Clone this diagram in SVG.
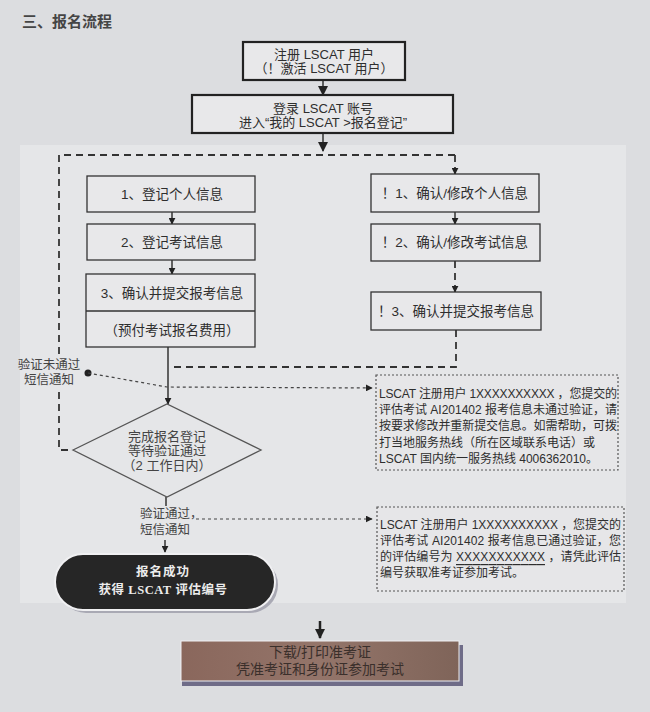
<svg xmlns="http://www.w3.org/2000/svg" width="650" height="712" viewBox="0 0 650 712">
<defs>
<style>
text{font-family:"Liberation Sans","Noto Sans CJK SC",sans-serif;fill:#2e2e2e;}
.c{text-anchor:middle;dominant-baseline:central;}
.l{text-anchor:start;dominant-baseline:central;}
.t13{font-size:13px;}
.t14{font-size:13.5px;}
.t12{font-size:12px;}
.box{fill:#e8e8ea;stroke:#333;stroke-width:1.3;}
.boxb{fill:#e8e8ea;stroke:#222;stroke-width:2.2;}
.solid{fill:none;stroke:#333;stroke-width:1.5;}
.dash{fill:none;stroke:#333;stroke-width:1.8;stroke-dasharray:7 5;}
.dot{fill:none;stroke:#444;stroke-width:1.2;stroke-dasharray:3 3;}
.dotbox{fill:#e6e6e8;stroke:#555;stroke-width:1.2;stroke-dasharray:2 2;}
</style>
<marker id="ah" viewBox="0 0 10 10" refX="9" refY="5" markerWidth="7" markerHeight="7" markerUnits="userSpaceOnUse" orient="auto">
<path d="M0,0 L10,5 L0,10 z" fill="#222"/>
</marker>
<marker id="ahb" viewBox="0 0 10 10" refX="9" refY="5" markerWidth="10" markerHeight="10" markerUnits="userSpaceOnUse" orient="auto">
<path d="M0,0 L10,5 L0,10 z" fill="#222"/>
</marker>
<linearGradient id="brown" x1="0" y1="0" x2="1" y2="0">
<stop offset="0" stop-color="#8a675c"/>
<stop offset="0.5" stop-color="#94756a"/>
<stop offset="1" stop-color="#7f6459"/>
</linearGradient>
</defs>

<rect x="0" y="0" width="650" height="712" fill="#dcdde0"/>
<rect x="20" y="145" width="606" height="458" fill="#e5e6e8"/>

<text x="22" y="21" class="l" style="font-size:15px;font-weight:bold;fill:#454545;">三、报名流程</text>

<g id="connectors">
<line x1="323" y1="80" x2="323" y2="95" class="solid" marker-end="url(#ahb)"/>
<line x1="323" y1="133" x2="323" y2="151" class="solid" marker-end="url(#ahb)"/>
<path d="M455 155 H59 V354" class="dash"/>
<path d="M59 392 V450 H73" class="dash"/>
<line x1="455" y1="155" x2="455" y2="174" class="dash" marker-end="url(#ah)"/>
<line x1="172" y1="212" x2="172" y2="224" class="solid" marker-end="url(#ah)"/>
<line x1="172" y1="260" x2="172" y2="274" class="solid" marker-end="url(#ah)"/>
<line x1="455" y1="212" x2="455" y2="224" class="solid" marker-end="url(#ah)"/>
<line x1="455" y1="261" x2="455" y2="292" class="dash" marker-end="url(#ah)"/>
<path d="M456 330 V367 H173" class="dash"/>
<line x1="168" y1="347" x2="168" y2="404" class="solid" marker-end="url(#ah)"/>
<circle cx="88" cy="373" r="3.5" fill="#222"/>
<polyline points="88,373 167,387 372,388" class="dot" marker-end="url(#ah)"/>
<line x1="166" y1="497" x2="166" y2="506" class="solid"/>
<line x1="165" y1="540" x2="165" y2="552" class="solid" marker-end="url(#ah)"/>
<line x1="196" y1="519" x2="372" y2="519" class="dot" marker-end="url(#ah)"/>
<line x1="320" y1="621" x2="320" y2="638" style="stroke:#222;stroke-width:2.5" marker-end="url(#ahb)"/>
</g>

<g id="n-register">
<rect x="243" y="42" width="162" height="38" class="boxb"/>
<text x="324" y="54" class="c t13">注册 LSCAT 用户</text>
<text x="324" y="68" class="c t13">（！激活 LSCAT 用户）</text>
</g>

<g id="n-login">
<rect x="192" y="95" width="261" height="38" class="boxb"/>
<text x="323" y="108" class="c t13">登录 LSCAT 账号</text>
<text x="323" y="122" class="c t13">进入“我的 LSCAT &gt;报名登记”</text>
</g>

<g id="n-l1">
<rect x="87" y="176" width="168" height="36" class="box"/>
<text x="172" y="194" class="c t14">1、登记个人信息</text>
</g>
<g id="n-l2">
<rect x="87" y="224" width="168" height="36" class="box"/>
<text x="172" y="242" class="c t14">2、登记考试信息</text>
</g>
<g id="n-l3">
<rect x="86" y="274" width="169" height="73" class="box"/>
<line x1="86" y1="311" x2="255" y2="311" style="stroke:#333;stroke-width:1.3"/>
<text x="172" y="293" class="c t14">3、确认并提交报考信息</text>
<text x="172" y="330" class="c t14">（预付考试报名费用）</text>
</g>

<g id="n-r1">
<rect x="371" y="174" width="168" height="38" class="box"/>
<text x="455" y="193" class="c t14">！1、确认/修改个人信息</text>
</g>
<g id="n-r2">
<rect x="371" y="224" width="169" height="37" class="box"/>
<text x="455" y="242.5" class="c t14">！2、确认/修改考试信息</text>
</g>
<g id="n-r3">
<rect x="371" y="292" width="170" height="38" class="box"/>
<text x="456" y="311" class="c t14">！3、确认并提交报考信息</text>
</g>

<g id="n-fail-label">
<text x="49" y="365" class="c" style="font-size:12.5px;fill:#444;">验证未通过</text>
<text x="49" y="380" class="c" style="font-size:12.5px;fill:#444;">短信通知</text>
</g>

<g id="n-wait">
<polygon points="73,450 167,404 261,450 167,497" style="fill:none;stroke:#555;stroke-width:1.3"/>
<text x="167" y="436" class="c t13" style="fill:#444">完成报名登记</text>
<text x="167" y="450" class="c t13" style="fill:#444">等待验证通过</text>
<text x="167" y="465" class="c t13" style="fill:#444">（2 工作日内）</text>
</g>

<g id="n-fail-msg">
<rect x="376" y="375" width="242" height="95" class="dotbox"/>
<text x="379" y="394" class="l t12" textLength="238" lengthAdjust="spacing">LSCAT 注册用户 1XXXXXXXXXX ，您提交的</text>
<text x="379" y="410" class="l t12" textLength="238" lengthAdjust="spacing">评估考试 AI201402 报考信息未通过验证，请</text>
<text x="379" y="426" class="l t12" textLength="238" lengthAdjust="spacing">按要求修改并重新提交信息。如需帮助，可拨</text>
<text x="379" y="443" class="l t12">打当地服务热线（所在区域联系电话）或</text>
<text x="379" y="459" class="l t12">LSCAT 国内统一服务热线 4006362010。</text>
</g>

<g id="n-pass-label">
<text x="140" y="514" class="l" style="font-size:12.5px;fill:#444;">验证通过，</text>
<text x="140" y="530" class="l" style="font-size:12.5px;fill:#444;">短信通知</text>
</g>

<g id="n-pass-msg">
<rect x="377" y="507" width="247" height="84" class="dotbox"/>
<text x="380" y="525" class="l t12" textLength="241" lengthAdjust="spacing">LSCAT 注册用户 1XXXXXXXXXX ，您提交的</text>
<text x="380" y="541" class="l t12" textLength="241" lengthAdjust="spacing">评估考试 AI201402 报考信息已通过验证，您</text>
<text x="380" y="557" class="l t12" textLength="241" lengthAdjust="spacing">的评估编号为 <tspan text-decoration="underline">XXXXXXXXXXX</tspan> ，请凭此评估</text>
<text x="380" y="573" class="l t12">编号获取准考证参加考试。</text>
</g>

<g id="n-success">
<rect x="58" y="557" width="220" height="56" rx="28" fill="#a9a9b4"/>
<rect x="55" y="554" width="220" height="56" rx="28" fill="#262626" stroke="#f0f0f2" stroke-width="2"/>
<text x="163" y="572" class="c" style="font-size:12.5px;font-weight:bold;fill:#ececec;letter-spacing:1px;">报名成功</text>
<text x="163" y="590" class="c" style="font-size:12.5px;font-weight:bold;fill:#ececec;letter-spacing:0.5px;">获得 <tspan style="font-family:'Liberation Serif',serif;">LSCAT</tspan> 评估编号</text>
</g>

<g id="n-print">
<rect x="182" y="645" width="281" height="41" fill="#6f6c88"/>
<rect x="181" y="641" width="278" height="40" fill="url(#brown)" stroke="#efeff2" stroke-width="1"/>
<text x="320" y="652" class="c" style="font-size:14px;fill:#3a2f2b;">下载/打印准考证</text>
<text x="320" y="669" class="c" style="font-size:14px;fill:#3a2f2b;">凭准考证和身份证参加考试</text>
</g>
</svg>
